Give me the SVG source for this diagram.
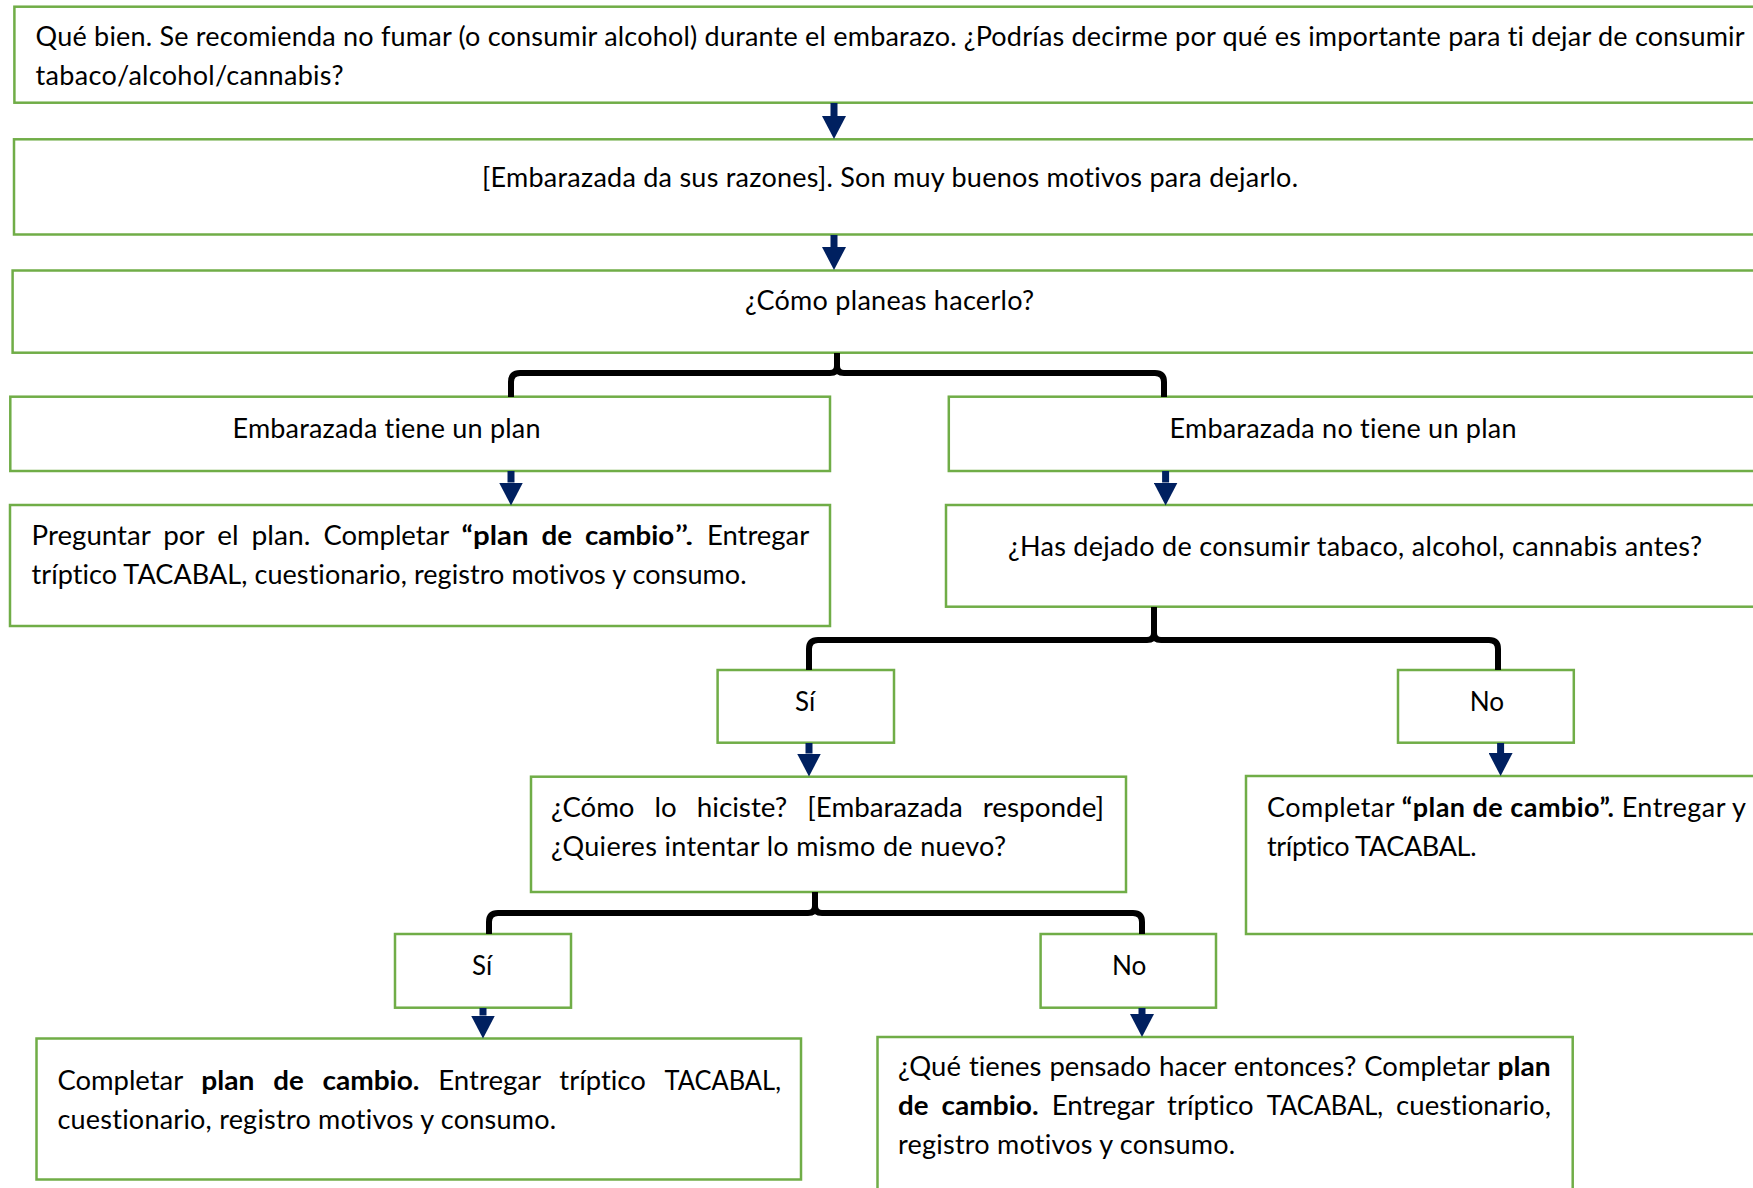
<svg xmlns="http://www.w3.org/2000/svg" width="1753" height="1188" viewBox="0 0 1753 1188">
  <style>
    .box { fill: #ffffff; stroke: #70AD47; stroke-width: 2.5; }
    .t { font-family: Lato, "Open Sans", "Liberation Sans", sans-serif; font-size: 27px; fill: #000000; font-variant-ligatures: none; font-feature-settings: "liga" 0, "clig" 0; }
    .b { font-weight: 700; }
    .brace { fill: none; stroke: #000000; stroke-width: 6; stroke-linejoin: round; stroke-linecap: butt; }
    .arrow { fill: none; stroke: #002060; stroke-width: 7; marker-end: url(#ah); }
  </style>
  <defs>
    <marker id="ah" markerUnits="userSpaceOnUse" markerWidth="23" markerHeight="24" viewBox="0 0 23 24" refX="0" refY="12" orient="auto">
      <path d="M0,0 L23,12 L0,24 z" fill="#002060"/>
    </marker>
  </defs>
  <rect width="1753" height="1188" fill="#ffffff"/>

  <!-- question about reasons -->
  <g id="n-intro">
    <rect class="box" x="14.4" y="6.7" width="1760" height="96"/>
    <text class="t" x="35.6" y="45.5" textLength="1709" lengthAdjust="spacing">Qué bien. Se recomienda no fumar (o consumir alcohol) durante el embarazo. ¿Podrías decirme por qué es importante para ti dejar de consumir</text>
    <text class="t" x="35.6" y="84.5" textLength="308" lengthAdjust="spacing">tabaco/alcohol/cannabis?</text>
  </g>

  <g id="n-razones">
    <rect class="box" x="14" y="139.3" width="1760" height="95.2"/>
    <text class="t" x="482" y="187" textLength="816" lengthAdjust="spacing">[Embarazada da sus razones]. Son muy buenos motivos para dejarlo.</text>
  </g>

  <g id="n-como-planeas">
    <rect class="box" x="12.6" y="270.5" width="1760" height="82.2"/>
    <text class="t" x="745" y="309.5" textLength="289" lengthAdjust="spacing">¿Cómo planeas hacerlo?</text>
  </g>

  <g id="n-tiene-plan">
    <rect class="box" x="10.3" y="396.7" width="819.7" height="74.3"/>
    <text class="t" x="232.5" y="437.5" textLength="308" lengthAdjust="spacing">Embarazada tiene un plan</text>
  </g>

  <g id="n-no-tiene-plan">
    <rect class="box" x="948.8" y="396.7" width="820" height="74.3"/>
    <text class="t" x="1169.5" y="437.5" textLength="347" lengthAdjust="spacing">Embarazada no tiene un plan</text>
  </g>

  <g id="n-preguntar">
    <rect class="box" x="10" y="505" width="820" height="121"/>
    <text class="t" y="544.5"><tspan x="31.6" textLength="118.6" lengthAdjust="spacingAndGlyphs">Preguntar</tspan> <tspan x="163.2" textLength="41" lengthAdjust="spacingAndGlyphs">por</tspan> <tspan x="217.2" textLength="21.3" lengthAdjust="spacingAndGlyphs">el</tspan> <tspan x="251.5" textLength="58.9" lengthAdjust="spacingAndGlyphs">plan.</tspan> <tspan x="323.4" textLength="125.2" lengthAdjust="spacingAndGlyphs">Completar</tspan> <tspan class="b" x="461.6" textLength="66.9" lengthAdjust="spacingAndGlyphs">“plan</tspan> <tspan class="b" x="541.5" textLength="30.5" lengthAdjust="spacingAndGlyphs">de</tspan> <tspan class="b" x="585" textLength="89.2" lengthAdjust="spacingAndGlyphs">cambio</tspan><tspan x="674.2" textLength="19.6" lengthAdjust="spacingAndGlyphs">”.</tspan> <tspan x="706.9" textLength="102.4" lengthAdjust="spacingAndGlyphs">Entregar</tspan></text>
    <text class="t" x="31.6" y="583.5" textLength="715" lengthAdjust="spacing">tríptico TACABAL, cuestionario, registro motivos y consumo.</text>
  </g>

  <g id="n-has-dejado">
    <rect class="box" x="946" y="505" width="820" height="101.7"/>
    <text class="t" x="1008" y="555.5" textLength="694" lengthAdjust="spacing">¿Has dejado de consumir tabaco, alcohol, cannabis antes?</text>
  </g>

  <g id="n-si-1">
    <rect class="box" x="717.6" y="670" width="176.4" height="72.7"/>
    <text class="t" x="795" y="711" textLength="20.2" lengthAdjust="spacingAndGlyphs">Sí</text>
  </g>

  <g id="n-no-1">
    <rect class="box" x="1398" y="670" width="175.8" height="72.7"/>
    <text class="t" x="1469.7" y="711" textLength="34.4" lengthAdjust="spacingAndGlyphs">No</text>
  </g>

  <g id="n-como-hiciste">
    <rect class="box" x="531" y="776.7" width="595" height="115.3"/>
    <text class="t" y="816.5"><tspan x="551" textLength="83.5" lengthAdjust="spacingAndGlyphs">¿Cómo</tspan> <tspan x="654.5" textLength="22.2" lengthAdjust="spacingAndGlyphs">lo</tspan> <tspan x="696.7" textLength="90.6" lengthAdjust="spacingAndGlyphs">hiciste?</tspan> <tspan x="807.3" textLength="155.4" lengthAdjust="spacingAndGlyphs">[Embarazada</tspan> <tspan x="982.7" textLength="121.4" lengthAdjust="spacingAndGlyphs">responde]</tspan></text>
    <text class="t" x="551" y="855.5" textLength="455" lengthAdjust="spacing">¿Quieres intentar lo mismo de nuevo?</text>
  </g>

  <g id="n-completar-no">
    <rect class="box" x="1246" y="776" width="520" height="158"/>
    <text class="t" x="1267" y="816.5" textLength="479" lengthAdjust="spacing">Completar <tspan class="b">“plan de cambio”.</tspan> Entregar y</text>
    <text class="t" x="1267" y="855.5" textLength="209.5" lengthAdjust="spacing">tríptico TACABAL.</text>
  </g>

  <g id="n-si-2">
    <rect class="box" x="395" y="934" width="176" height="73.7"/>
    <text class="t" x="472" y="975" textLength="20.2" lengthAdjust="spacingAndGlyphs">Sí</text>
  </g>

  <g id="n-no-2">
    <rect class="box" x="1040.6" y="934" width="175.4" height="73.7"/>
    <text class="t" x="1112" y="975" textLength="34.4" lengthAdjust="spacingAndGlyphs">No</text>
  </g>

  <g id="n-completar-si">
    <rect class="box" x="36.5" y="1038.5" width="764.5" height="141"/>
    <text class="t" y="1089.5"><tspan x="57.4" textLength="125.2" lengthAdjust="spacingAndGlyphs">Completar</tspan> <tspan class="b" x="201.3" textLength="53.2" lengthAdjust="spacingAndGlyphs">plan</tspan> <tspan class="b" x="273.2" textLength="30.5" lengthAdjust="spacingAndGlyphs">de</tspan> <tspan class="b" x="322.4" textLength="97.1" lengthAdjust="spacingAndGlyphs">cambio.</tspan> <tspan x="438.2" textLength="102.4" lengthAdjust="spacingAndGlyphs">Entregar</tspan> <tspan x="559.3" textLength="86.5" lengthAdjust="spacingAndGlyphs">tríptico</tspan> <tspan x="664.5" textLength="116.4" lengthAdjust="spacingAndGlyphs">TACABAL,</tspan></text>
    <text class="t" x="57.4" y="1128.5" textLength="498.7" lengthAdjust="spacing">cuestionario, registro motivos y consumo.</text>
  </g>

  <g id="n-que-tienes">
    <rect class="box" x="877.5" y="1037" width="695.2" height="180"/>
    <text class="t" y="1076"><tspan x="898" textLength="62.9" lengthAdjust="spacingAndGlyphs">¿Qué</tspan> <tspan x="968.9" textLength="72.5" lengthAdjust="spacingAndGlyphs">tienes</tspan> <tspan x="1049.4" textLength="101.7" lengthAdjust="spacingAndGlyphs">pensado</tspan> <tspan x="1159.1" textLength="66.6" lengthAdjust="spacingAndGlyphs">hacer</tspan> <tspan x="1233.7" textLength="122.6" lengthAdjust="spacingAndGlyphs">entonces?</tspan> <tspan x="1364.3" textLength="125.2" lengthAdjust="spacingAndGlyphs">Completar</tspan> <tspan class="b" x="1497.5" textLength="53.2" lengthAdjust="spacingAndGlyphs">plan</tspan></text>
    <text class="t" y="1115"><tspan class="b" x="898" textLength="30.5" lengthAdjust="spacingAndGlyphs">de</tspan> <tspan class="b" x="941.5" textLength="97.1" lengthAdjust="spacingAndGlyphs">cambio.</tspan> <tspan x="1051.7" textLength="102.4" lengthAdjust="spacingAndGlyphs">Entregar</tspan> <tspan x="1167.1" textLength="86.5" lengthAdjust="spacingAndGlyphs">tríptico</tspan> <tspan x="1266.7" textLength="116.4" lengthAdjust="spacingAndGlyphs">TACABAL,</tspan> <tspan x="1396.1" textLength="154.9" lengthAdjust="spacingAndGlyphs">cuestionario,</tspan></text>
    <text class="t" x="898" y="1154" textLength="337.2" lengthAdjust="spacing">registro motivos y consumo.</text>
  </g>

  <!-- connectors: down arrows and branching braces -->
  <g id="connectors">
    <line class="arrow" x1="834" y1="103" x2="834" y2="116"/>
    <line class="arrow" x1="834" y1="235" x2="834" y2="247"/>
    <line class="arrow" x1="511" y1="471" x2="511" y2="482.5"/>
    <line class="arrow" x1="1165.6" y1="471" x2="1165.6" y2="482.5"/>
    <line class="arrow" x1="809" y1="743" x2="809" y2="753.5"/>
    <line class="arrow" x1="1500.6" y1="743" x2="1500.6" y2="753"/>
    <line class="arrow" x1="483" y1="1008" x2="483" y2="1015.5"/>
    <line class="arrow" x1="1142" y1="1008" x2="1142" y2="1014"/>

    <path class="brace" d="M511,397 V382 Q511,373 520,373 H830 Q837,373 837,366 V353 M837,366 Q837,373 844,373 H1155 Q1164,373 1164,382 V397"/>
    <path class="brace" d="M809,670 V649 Q809,640 818,640 H1147 Q1154,640 1154,633 V607 M1154,633 Q1154,640 1161,640 H1489 Q1498,640 1498,649 V670"/>
    <path class="brace" d="M489,934 V922 Q489,913 498,913 H808 Q815,913 815,906 V892 M815,906 Q815,913 822,913 H1133 Q1142,913 1142,922 V934"/>
  </g>
</svg>
